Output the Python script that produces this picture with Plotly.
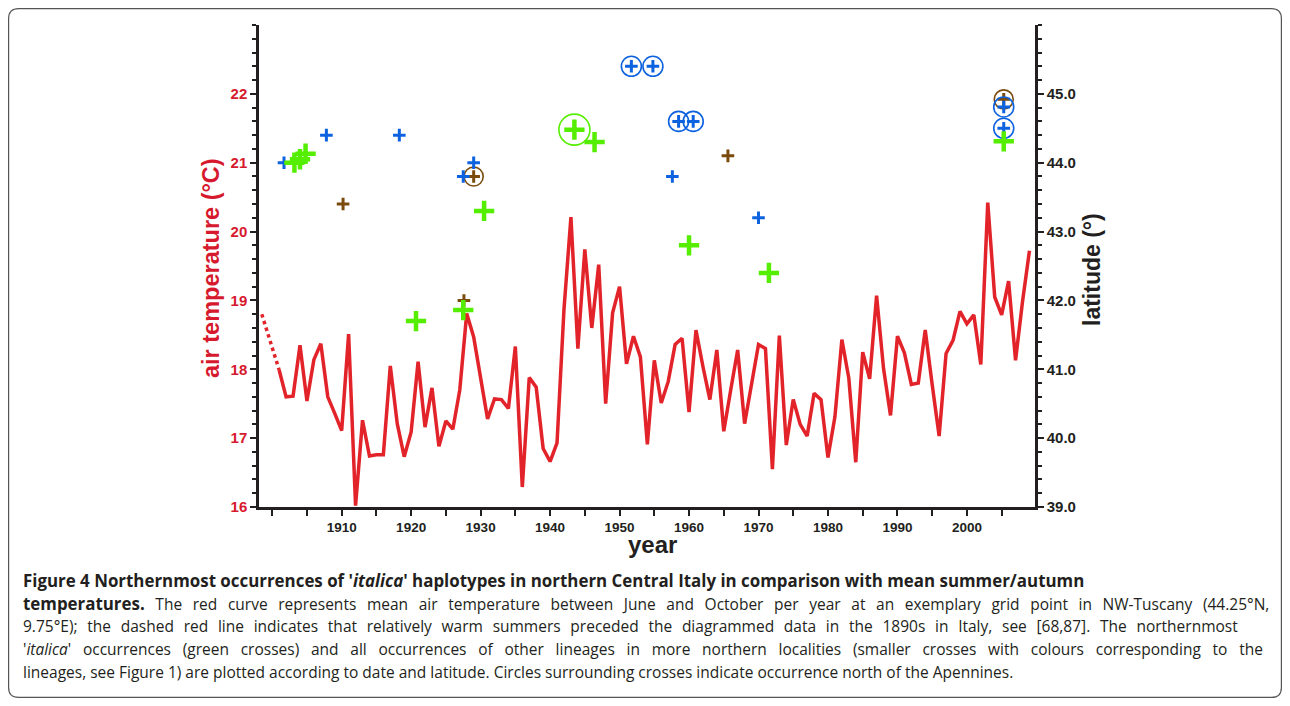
import plotly.graph_objects as go

# ---------------- data ----------------
years = list(range(1901, 2010))
temps = [17.99, 17.60, 17.61, 18.35, 17.54, 18.14, 18.37, 17.60, 17.36, 17.11,
         18.51, 16.02, 17.26, 16.74, 16.76, 16.76, 18.05, 17.21, 16.73, 17.09,
         18.11, 17.16, 17.73, 16.88, 17.25, 17.13, 17.70, 18.81, 18.47, 17.89,
         17.28, 17.57, 17.56, 17.43, 18.33, 16.29, 17.88, 17.74, 16.85, 16.66,
         16.93, 18.87, 20.21, 18.30, 19.74, 18.60, 19.52, 17.50, 18.82, 19.20,
         18.08, 18.48, 18.18, 16.91, 18.13, 17.51, 17.82, 18.36, 18.45, 17.38,
         18.57, 18.04, 17.56, 18.28, 17.10, 17.70, 18.28, 17.21, 17.78, 18.36,
         18.30, 16.55, 18.49, 16.90, 17.56, 17.20, 17.03, 17.65, 17.56, 16.72,
         17.31, 18.43, 17.87, 16.65, 18.25, 17.86, 19.07, 18.01, 17.33, 18.48,
         18.24, 17.78, 17.80, 18.57, 17.78, 17.03, 18.23, 18.42, 18.84, 18.66,
         18.79, 18.07, 20.42, 19.05, 18.79, 19.28, 18.13, 18.98, 19.72]

dashed_years = [1898.5, 1901]
dashed_temps = [18.80, 17.99]

# 'italica' (green) northernmost occurrences
green_years = [1903.2, 1904.0, 1904.8, 1920.7, 1927.5, 1930.5, 1943.5, 1946.4, 1960.0, 1971.5, 2005.3]
green_lats = [44.00, 44.05, 44.13, 41.70, 41.86, 43.30, 44.48, 44.30, 42.80, 42.40, 44.31]
green_circ_years = [1943.5]
green_circ_lats = [44.48]

# other lineage (blue)
blue_years = [1901.7, 1907.8, 1918.3, 1927.5, 1929.0, 1957.6, 1970.0,
              1951.7, 1954.8, 1958.5, 1960.6, 2005.3, 2005.3]
blue_lats = [44.0, 44.4, 44.4, 43.8, 44.0, 43.8, 43.2,
             45.4, 45.4, 44.6, 44.6, 44.81, 44.5]
blue_circ_years = [1951.7, 1954.8, 1958.5, 1960.6, 2005.3, 2005.3]
blue_circ_lats = [45.4, 45.4, 44.6, 44.6, 44.81, 44.5]

# other lineage (brown)
brown_years = [1910.2, 1927.6, 1965.6, 1929.0, 2005.3]
brown_lats = [43.4, 42.0, 44.1, 43.8, 44.92]
brown_circ_years = [1929.0, 2005.3]
brown_circ_lats = [43.8, 44.92]

temp_ticks = [16, 17, 18, 19, 20, 21, 22]
lat_ticks = [39, 40, 41, 42, 43, 44, 45]
year_ticks = list(range(1900, 2010, 5))
year_labels = [str(y) if (y % 10 == 0 and y >= 1910) else "" for y in year_ticks]

RED = "#e2232a"
LABEL_RED = "#d7192e"
GREEN = "#55ee00"
BLUE = "#0d62e0"
BROWN = "#7a4b0c"
AX = "#231f20"

# ---------------- figure ----------------
# page body has an 8px margin, so figure pixel = screenshot pixel - 8
OFF = 8
W, H = 1274, 690
L, R, T, B = 259 - OFF, 1035 - OFF, 25 - OFF, 507 - OFF

fig = go.Figure()

fig.add_trace(go.Scatter(x=dashed_years, y=dashed_temps, mode="lines",
                         line=dict(color=RED, width=3.5, dash="dot"), hoverinfo="skip"))
fig.add_trace(go.Scatter(x=years, y=temps, mode="lines",
                         line=dict(color=RED, width=3.5), name="temperature"))


def crosses(xs, ys, color, size, width):
    return go.Scatter(x=xs, y=ys, mode="markers", yaxis="y2",
                      marker=dict(symbol="cross-thin", size=size, color=color,
                                  line=dict(color=color, width=width)))


def circles(xs, ys, color, size):
    return go.Scatter(x=xs, y=ys, mode="markers", yaxis="y2",
                      marker=dict(symbol="circle-open", size=size, color=color,
                                  line=dict(color=color, width=1.6)))


fig.add_trace(crosses(brown_years, brown_lats, BROWN, 9, 3))
fig.add_trace(circles(brown_circ_years, brown_circ_lats, BROWN, 19))
fig.add_trace(crosses(blue_years, blue_lats, BLUE, 9, 3))
fig.add_trace(circles(blue_circ_years, blue_circ_lats, BLUE, 20))
fig.add_trace(crosses(green_years, green_lats, GREEN, 14.5, 4.5))
fig.add_trace(circles(green_circ_years, green_circ_lats, GREEN, 31))


def px(x):  # screenshot x -> paper
    return (x - OFF - L) / (R - L)


def py(y):  # screenshot y -> paper
    return (B - (y - OFF)) / (B - T)


bold = dict(family="Liberation Sans, Arial, sans-serif", weight="bold")

fig.update_layout(
    width=W, height=H,
    margin=dict(l=L, r=W - R, t=T, b=H - B),
    paper_bgcolor="white", plot_bgcolor="white",
    showlegend=False,
    xaxis=dict(range=[1898.1, 2009.8], tickmode="array", tickvals=year_ticks, ticktext=year_labels,
               ticks="outside", ticklen=6, tickwidth=2, tickcolor=AX,
               showline=True, linecolor=AX, linewidth=2.5, showgrid=False, zeroline=False,
               tickfont=dict(size=13.5, color=AX, **bold)),
    yaxis=dict(range=[16, 23], tickmode="array", tickvals=temp_ticks,
               ticks="outside", ticklen=6, tickwidth=2, tickcolor=AX,
               minor=dict(tickmode="linear", tick0=16, dtick=0.2, ticks="outside",
                          ticklen=4, tickwidth=2, tickcolor=AX),
               showline=True, linecolor=AX, linewidth=2.5, showgrid=False, zeroline=False,
               tickfont=dict(size=15, color=LABEL_RED, **bold)),
    yaxis2=dict(range=[39, 46], overlaying="y", side="right", tickmode="array",
                tickvals=lat_ticks, tickformat=".1f",
                ticks="outside", ticklen=6, tickwidth=2, tickcolor=AX,
                minor=dict(tickmode="linear", tick0=39, dtick=0.2, ticks="outside",
                           ticklen=4, tickwidth=2, tickcolor=AX),
                showline=True, linecolor=AX, linewidth=2.5, showgrid=False, zeroline=False,
                tickfont=dict(size=15, color=AX, **bold)),
)

# axis titles
fig.add_annotation(x=px(211), y=py(268), xref="paper", yref="paper", showarrow=False,
                   xanchor="center", yanchor="middle",
                   text="air temperature (°C)", textangle=-90,
                   font=dict(size=23.5, color=LABEL_RED, **bold))
fig.add_annotation(x=px(1092), y=py(270), xref="paper", yref="paper", showarrow=False,
                   xanchor="center", yanchor="middle",
                   text="latitude (°)", textangle=-90,
                   font=dict(size=23, color=AX, **bold))
fig.add_annotation(x=px(652), y=py(544), xref="paper", yref="paper", showarrow=False,
                   xanchor="center", yanchor="middle",
                   text="year", font=dict(size=24, color=AX, **bold))

# caption (justified lines emulated with word spacing)
BS = "<b><span style='font-size:16.9px'>"
BE = "</span></b>"


def ws(txt, sp):
    return f"<span style='word-spacing:{sp}px'>{txt}</span>"


caption = [
    BS + "Figure 4 Northernmost occurrences of '<i>italica</i>' haplotypes in northern Central Italy in comparison with mean summer/autumn" + BE,
    BS + "temperatures." + BE + ws(" The red curve represents mean air temperature between June and October per year at an exemplary grid point in NW-Tuscany (44.25°N,", 6.6),
    ws("9.75°E); the dashed red line indicates that relatively warm summers preceded the diagrammed data in the 1890s in Italy, see [68,87]. The northernmost", 5.7),
    ws("'<i>italica</i>' occurrences (green crosses) and all occurrences of other lineages in more northern localities (smaller crosses with colours corresponding to the", 7.7),
    "lineages, see Figure 1) are plotted according to date and latitude. Circles surrounding crosses indicate occurrence north of the Apennines.",
]
for i, line in enumerate(caption):
    fig.add_annotation(x=px(21), y=py(580 + 23 * i), xref="paper", yref="paper", showarrow=False,
                       xanchor="left", yanchor="middle", align="left", text=line,
                       font=dict(size=15.5, color="#231f20", family="Open Sans, sans-serif"))

# rounded frame
x0, x1, y0, y1, rr = 8.6, 1281.4, 8.6, 697.4, 10
path = (f"M {px(x0 + rr)} {py(y0)} L {px(x1 - rr)} {py(y0)} Q {px(x1)} {py(y0)} {px(x1)} {py(y0 + rr)} "
        f"L {px(x1)} {py(y1 - rr)} Q {px(x1)} {py(y1)} {px(x1 - rr)} {py(y1)} "
        f"L {px(x0 + rr)} {py(y1)} Q {px(x0)} {py(y1)} {px(x0)} {py(y1 - rr)} "
        f"L {px(x0)} {py(y0 + rr)} Q {px(x0)} {py(y0)} {px(x0 + rr)} {py(y0)} Z")
fig.add_shape(type="path", path=path, xref="paper", yref="paper",
              line=dict(color="#555555", width=1.2), layer="below")

fig.write_html("out.html")
